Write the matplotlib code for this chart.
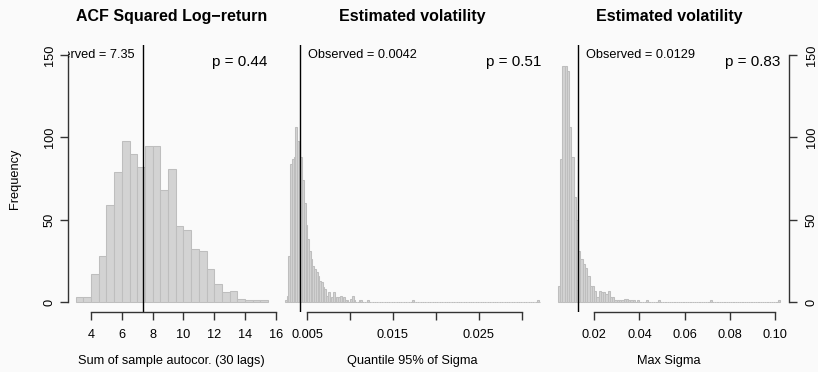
import numpy as np
import matplotlib
matplotlib.use('Agg')
import matplotlib.pyplot as plt
from matplotlib.transforms import offset_copy

plt.rcParams['font.family'] = ['Liberation Sans', 'DejaVu Sans']

# ---- simulated statistics: bin start, bin width, counts ----
acf_start, acf_width = 3.0, 0.5
acf_counts = [3, 3, 17, 28, 59, 79, 98, 90, 82, 95, 95, 68, 81, 46, 44,
              32, 31, 20, 11, 6, 7, 2, 1, 1, 1]
acf_obs, acf_p = 7.35, 0.44

q95_start, q95_width, q95_nbins = 0.0024, 0.0002, 149
q95_head = [1, 4, 28, 84, 87, 88, 106, 98, 96, 88, 74, 60, 47, 38, 31, 26,
            22, 20, 18, 16, 13, 12, 9, 8, 4, 6, 2, 3, 6, 2, 3, 3, 4, 1, 3,
            1, 1, 0, 2, 4, 1, 0, 0, 1, 1]
q95_tail = {48: 1, 74: 1, 147: 1}
q95_obs, q95_p = 0.0042, 0.51

max_start, max_width, max_nbins = 0.004, 0.001, 98
max_head = [10, 87, 143, 143, 140, 106, 88, 64, 50, 31, 26, 23, 21, 16, 10,
            10, 7, 3, 7, 6, 6, 5, 7, 3, 3, 1, 1, 1, 1, 2, 2, 1, 1, 1, 0, 1]
max_tail = {39: 1, 44: 1, 67: 1, 97: 1}
max_obs, max_p = 0.0129, 0.83

yticks = [0, 50, 100, 150]
acf_ticks = [4, 6, 8, 10, 12, 14, 16]
acf_labels = ['4', '6', '8', '10', '12', '14', '16']
q95_ticks = [0.005, 0.010, 0.015, 0.020, 0.025, 0.030]
q95_labels = ['0.005', '', '0.015', '', '0.025', '']
max_ticks = [0.02, 0.04, 0.06, 0.08, 0.10]
max_labels = ['0.02', '0.04', '0.06', '0.08', '0.10']


def full_counts(head, tail, n):
    c = np.zeros(n)
    c[:len(head)] = head
    for k, v in tail.items():
        c[k] = v
    return c


W, H = 818, 372
TOP, BOT = 45, 312
AX_COL = '#333333'
fig = plt.figure(figsize=(W / 100, H / 100), dpi=100, facecolor='#fafafa')


def add_panel(left, right, xlim):
    ax = fig.add_axes([left / W, 1 - BOT / H, (right - left) / W, (BOT - TOP) / H])
    ax.patch.set_visible(False)
    ax.set_xlim(*xlim)
    ax.set_ylim(-6, 156)
    for s in ax.spines.values():
        s.set_visible(False)
        s.set_color(AX_COL)
        s.set_linewidth(1.0)
    ax.tick_params(direction='out', length=5.8, width=1.0, color=AX_COL,
                   labelsize=9.2, pad=6.5)
    return ax


def draw_hist(ax, start, width, counts):
    edges = start + width * np.arange(len(counts))
    ax.bar(edges, counts, width=width, align='edge', color='#d3d3d3',
           edgecolor='#bebebe', linewidth=0.75)


def x_axis(ax, ticks, labels, xlabel):
    ax.spines['bottom'].set_visible(True)
    ax.spines['bottom'].set_bounds(ticks[0], ticks[-1])
    ax.set_xticks(ticks)
    ax.set_xticklabels(labels)
    ax.set_xlabel(xlabel, fontsize=9.2, va='center')
    ax.xaxis.set_label_coords(0.5, -(361 - BOT) / (BOT - TOP))


def observed(ax, obs, text, left_side=False):
    ax.axvline(obs, color='black', lw=1.0)
    dx = -7.5 if left_side else 8.0
    tr = offset_copy(ax.transData, fig=fig, x=dx, y=0, units='dots')
    t = ax.text(obs, 150, text, transform=tr, fontsize=9.2,
                ha='right' if left_side else 'left', va='center', clip_on=True)
    t.set_clip_box(ax.bbox)


def p_value(ax, p):
    tr = offset_copy(ax.transAxes, fig=fig, x=-8, y=-(62 - TOP), units='dots')
    ax.text(1, 1, f'p = {p:.2f}', transform=tr, fontsize=11,
            ha='right', va='center')


def title(ax, s):
    ax.set_title(s, fontsize=11.5, fontweight='bold', y=1 + 29 / (BOT - TOP),
                 va='center', pad=0)


# ---- panel 1: ACF of squared log-returns ----
ax1 = add_panel(67.9, 275.8, (2.5, 16.0))
draw_hist(ax1, acf_start, acf_width, acf_counts)
observed(ax1, acf_obs, f'Observed = {acf_obs}', left_side=True)
p_value(ax1, acf_p)
title(ax1, 'ACF Squared Log\u2212return')
x_axis(ax1, acf_ticks, acf_labels, 'Sum of sample autocor. (30 lags)')
ax1.spines['left'].set_visible(True)
ax1.spines['left'].set_bounds(0, 150)
ax1.set_yticks(yticks)
ax1.tick_params(axis='y', labelrotation=90, pad=3)
for lab in ax1.get_yticklabels():
    lab.set_va('center')
ax1.set_ylabel('Frequency', fontsize=9.2, va='center')
ax1.yaxis.set_label_coords((15 - 67.9) / (275.8 - 67.9), 0.5)

# ---- panel 2: 95% quantile of sigma ----
ax2 = add_panel(274.8, 548.9, (0.001216, 0.033184))
draw_hist(ax2, q95_start, q95_width, full_counts(q95_head, q95_tail, q95_nbins))
observed(ax2, q95_obs, f'Observed = {q95_obs}')
p_value(ax2, q95_p)
title(ax2, 'Estimated volatility')
x_axis(ax2, q95_ticks, q95_labels, 'Quantile 95% of Sigma')
ax2.set_yticks([])

# ---- panel 3: max sigma ----
ax3 = add_panel(548.9, 788.8, (0.00008, 0.10592))
draw_hist(ax3, max_start, max_width, full_counts(max_head, max_tail, max_nbins))
observed(ax3, max_obs, f'Observed = {max_obs}')
p_value(ax3, max_p)
title(ax3, 'Estimated volatility')
x_axis(ax3, max_ticks, max_labels, 'Max Sigma')
ax3.yaxis.tick_right()
ax3.spines['right'].set_visible(True)
ax3.spines['right'].set_bounds(0, 150)
ax3.set_yticks(yticks)
ax3.tick_params(axis='y', labelrotation=90, pad=6.5)
for lab in ax3.get_yticklabels():
    lab.set_va('center')

fig.savefig('out.png', dpi=100, facecolor=fig.get_facecolor())
